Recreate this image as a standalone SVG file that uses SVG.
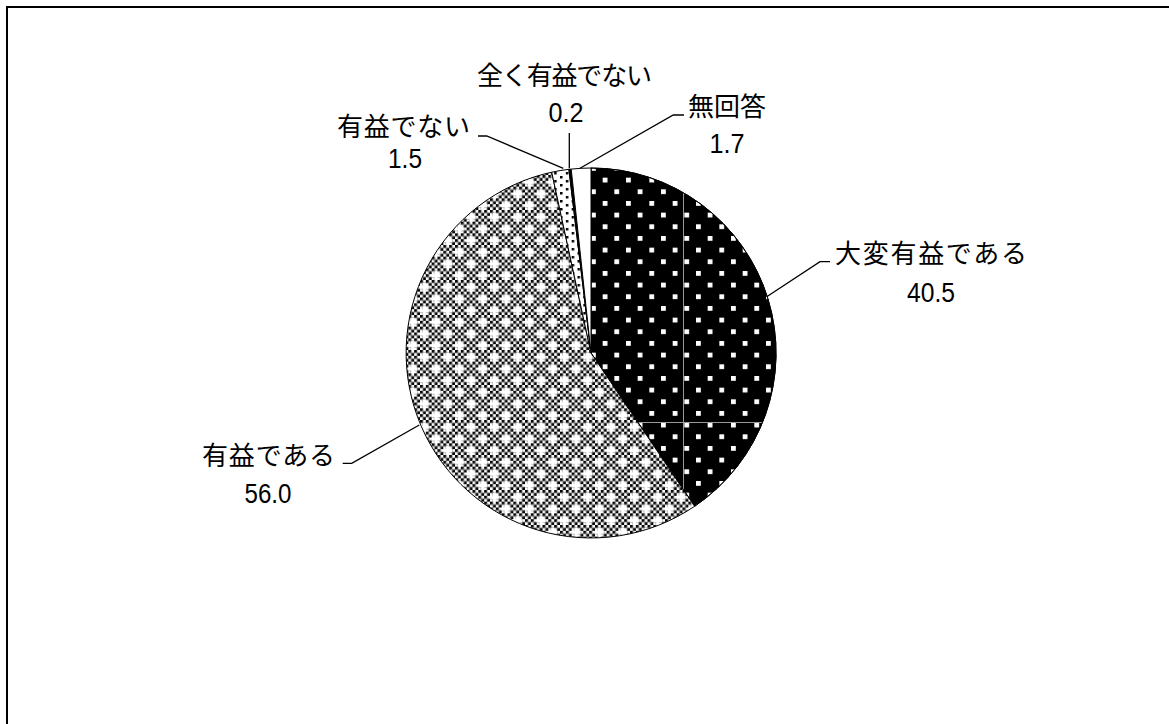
<svg xmlns="http://www.w3.org/2000/svg" width="1169" height="724" viewBox="0 0 1169 724">
  <style>
    .slice { stroke: #000; stroke-width: 1; stroke-linejoin: round; }
    .jp { font-family: "Noto Sans CJK JP", "Noto Sans CJK SC", sans-serif; font-size: 26px; fill: #000; }
    .num { font-family: "Liberation Sans", Arial, sans-serif; font-size: 27px; fill: #000; text-anchor: middle; }
    .leader { fill: none; stroke: #000; stroke-width: 1.3; }
    .seam { stroke: #9a9a9a; stroke-width: 1; }
  </style>
  <defs>
    <pattern id="pSquares" patternUnits="userSpaceOnUse" x="19.35" y="14.32" width="23.333" height="23.333">
      <rect width="23.333" height="23.333" fill="#000"/>
      <rect x="0" y="0" width="4.8" height="4.8" fill="#fff"/>
      <rect x="11.667" y="11.667" width="4.8" height="4.8" fill="#fff"/>
    </pattern>
    <pattern id="pCheckCell" patternUnits="userSpaceOnUse" width="5.8333" height="5.8333">
      <rect width="5.8333" height="5.8333" fill="#fff"/>
      <rect x="0" y="0" width="2.9167" height="2.9167" fill="#000"/>
      <rect x="2.9167" y="2.9167" width="2.9167" height="2.9167" fill="#000"/>
    </pattern>
    <pattern id="pChecker" patternUnits="userSpaceOnUse" width="23.333" height="23.333">
      <rect width="23.333" height="23.333" fill="url(#pCheckCell)"/>
      <rect x="0" y="5.8333" width="8.75" height="2.9167" fill="#fff"/>
      <rect x="2.9167" y="2.9167" width="2.9167" height="8.75" fill="#fff"/>
      <rect x="11.667" y="17.5" width="8.75" height="2.9167" fill="#fff"/>
      <rect x="14.583" y="14.583" width="2.9167" height="8.75" fill="#fff"/>
    </pattern>
    <pattern id="pDots" patternUnits="userSpaceOnUse" width="11.667" height="8">
      <rect width="11.667" height="8" fill="#fff"/>
      <rect x="0" y="0" width="2.5" height="2.5" fill="#000"/>
      <rect x="5.833" y="4" width="2.5" height="2.5" fill="#000"/>
    </pattern>
    <clipPath id="clipBlack">
      <path d="M591,353 L591,168 A185,185 0 0 1 694.6,506.3 Z"/>
    </clipPath>
  </defs>

  <path d="M7,724 V7 H1169" fill="none" stroke="#000" stroke-width="2"/>

  <g id="slice-taihen">
    <path class="slice" d="M591,353 L591,168 A185,185 0 0 1 694.6,506.3 Z" fill="url(#pSquares)"/>
    <g clip-path="url(#clipBlack)">
      <line class="seam" x1="683.5" y1="160" x2="683.5" y2="520"/>
      <line class="seam" x1="591" y1="422.5" x2="790" y2="422.5"/>
    </g>
    <path d="M591,353 L591,168 A185,185 0 0 1 694.6,506.3 Z" fill="none" stroke="#000" stroke-width="1"/>
  </g>
  <g id="slice-yueki">
    <path class="slice" d="M591,353 L694.6,506.3 A185,185 0 1 1 551.7,172.2 Z" fill="url(#pChecker)"/>
  </g>
  <g id="slice-yuekidenai">
    <path class="slice" d="M591,353 L551.7,172.2 A185,185 0 0 1 568.9,169.3 Z" fill="url(#pDots)"/>
  </g>
  <g id="slice-mattaku">
    <path class="slice" d="M591,353 L568.9,169.3 A185,185 0 0 1 571.2,169.1 Z" fill="#000"/>
  </g>
  <g id="slice-mukaitou">
    <path class="slice" d="M591,353 L571.2,169.1 A185,185 0 0 1 591,168 Z" fill="#fff"/>
  </g>

  <g id="connectors">
    <path class="leader" d="M766.7,296.7 L820,261.7 H830"/>
    <path class="leader" d="M419.3,425 L351.7,463.3 H342.7"/>
    <path class="leader" d="M563.3,168.3 L486.7,136 H478"/>
    <path class="leader" d="M569.3,168.3 V133"/>
    <path class="leader" d="M580,168.3 L673.3,115 H684"/>
  </g>

  <g id="label-taihen">
    <text class="jp" x="835" y="263" textLength="192" lengthAdjust="spacing">大変有益である</text>
    <text class="num" x="931" y="301.5" textLength="48" lengthAdjust="spacingAndGlyphs">40.5</text>
  </g>
  <g id="label-yueki">
    <text class="jp" x="202" y="464.5" textLength="133" lengthAdjust="spacing">有益である</text>
    <text class="num" x="268" y="503" textLength="47" lengthAdjust="spacingAndGlyphs">56.0</text>
  </g>
  <g id="label-mattaku">
    <text class="jp" x="477" y="84.5" textLength="175" lengthAdjust="spacing">全く有益でない</text>
    <text class="num" x="566" y="121.5" textLength="35" lengthAdjust="spacingAndGlyphs">0.2</text>
  </g>
  <g id="label-yuekidenai">
    <text class="jp" x="337" y="136" textLength="133" lengthAdjust="spacing">有益でない</text>
    <text class="num" x="405" y="168" textLength="34" lengthAdjust="spacingAndGlyphs">1.5</text>
  </g>
  <g id="label-mukaitou">
    <text class="jp" x="688" y="116" textLength="78" lengthAdjust="spacing">無回答</text>
    <text class="num" x="727" y="153" textLength="35" lengthAdjust="spacingAndGlyphs">1.7</text>
  </g>
</svg>
